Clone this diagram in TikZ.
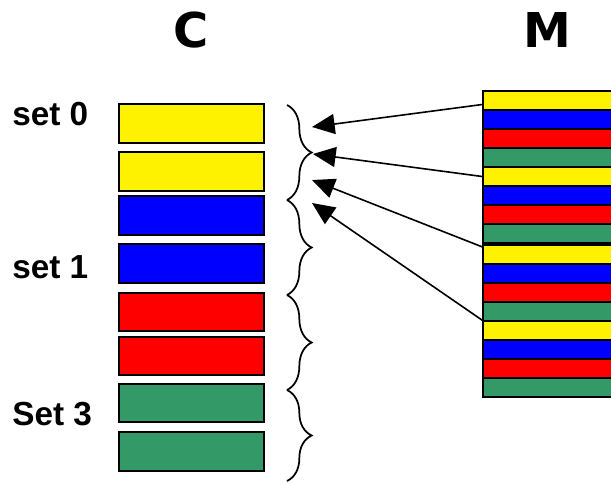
\documentclass[tikz,border=0pt]{standalone}
\usepackage{fontspec}
\setmainfont{Liberation Sans}
\newfontfamily\headfont{DejaVu Sans}
\usetikzlibrary{arrows.meta,decorations.pathreplacing}
\definecolor{cgreen}{RGB}{51,153,102}
\tikzset{
	cbox/.style={draw=black,line width=1.2pt,minimum width=108.75pt,minimum height=28.9pt,inner sep=0pt},
	mrow/.style={draw=black,line width=1.2pt,minimum width=102.75pt,minimum height=14.25pt,inner sep=0pt},
	setlbl/.style={anchor=base west,inner sep=0pt,font=\fontsize{25}{28}\selectfont\bfseries},
	hdr/.style={anchor=base,inner sep=0pt,font=\headfont\fontsize{36}{40}\selectfont\bfseries},
	bracepath/.style={decorate,decoration={brace,amplitude=18.5pt},line width=1.3pt},
	maparrow/.style={-{Triangle[length=17pt,width=15pt]},line width=1.2pt}
}
\begin{document}
\begin{tikzpicture}[x=0.75pt,y=-0.75pt]
		\useasboundingbox (0,0) rectangle (611,483);
		% cache C
		\node[hdr] (hc) at (191,47) {C};
		\node[cbox,fill=yellow] (c1) at (191.5,123.5) {};
		\node[cbox,fill=yellow] (c2) at (191.5,171.5) {};
		\node[cbox,fill=blue] (c3) at (191.5,215.5) {};
		\node[cbox,fill=blue] (c4) at (191.5,263.5) {};
		\node[cbox,fill=red] (c5) at (191.5,312) {};
		\node[cbox,fill=red] (c6) at (191.5,356) {};
		\node[cbox,fill=cgreen] (c7) at (191.5,403) {};
		\node[cbox,fill=cgreen] (c8) at (191.5,451.5) {};
		\node[setlbl] (set0) at (12,125) {set 0};
		\node[setlbl] (set1) at (12,278) {set 1};
		\node[setlbl] (set3) at (12,425) {Set 3};
		% braces
		\coordinate (b0) at (287,105);
		\coordinate (b1) at (287,200);
		\coordinate (b2) at (287,295);
		\coordinate (b3) at (287,390);
		\coordinate (b4) at (287,481);
		\draw[bracepath] (b0) -- (b1);
		\draw[bracepath] (b1) -- (b2);
		\draw[bracepath] (b2) -- (b3);
		\draw[bracepath] (b3) -- (b4);
		% memory M
		\node[hdr] (hm) at (547.5,47) {M};
		\foreach \c [count=\i from 0] in {yellow,blue,red,cgreen,yellow,blue,red,cgreen} {
			\node[mrow,fill=\c] (ma\i) at (551.5,{100.5+19*\i}) {};
			\node[mrow,fill=\c] (mb\i) at (551.5,{254.5+19*\i}) {};
		}
		% mapping
		\coordinate (t1) at (312,127);
		\coordinate (t2) at (313,154);
		\coordinate (t3) at (312,180);
		\coordinate (t4) at (312,203);
		\draw[maparrow] ([yshift=-3pt]ma0.west) -- (t1);
		\draw[maparrow] (ma4.west) -- (t2);
		\draw[maparrow] ([yshift=-2pt]mb0.north west) -- (t3);
		\draw[maparrow] (mb4.north west) -- (t4);
\end{tikzpicture}
\end{document}
